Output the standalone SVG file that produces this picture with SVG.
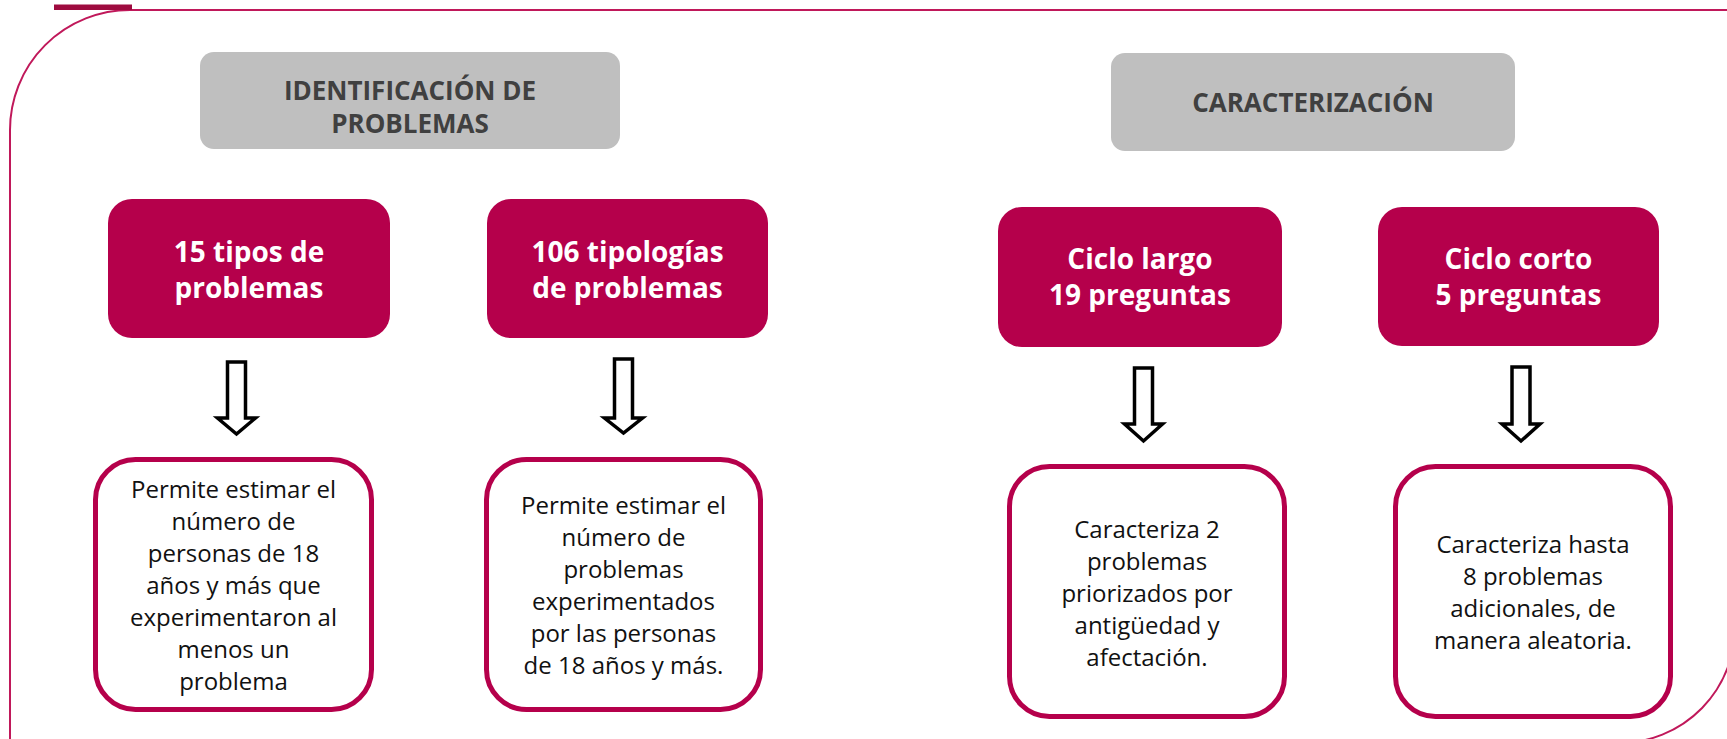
<svg xmlns="http://www.w3.org/2000/svg" width="1727" height="739" viewBox="0 0 1727 739">
  <style>
    .frame { fill: none; stroke: #C0185A; stroke-width: 2; }
    .gray { fill: #BFBFBF; }
    .gtxt { font-family: "Open Sans", "Noto Sans", sans-serif; font-weight: bold; font-size: 26px; fill: #404040; text-anchor: middle; }
    .mag { fill: #B5004B; }
    .mtxt { font-family: "Open Sans", "Noto Sans", sans-serif; font-weight: bold; font-size: 28px; fill: #FFFFFF; text-anchor: middle; }
    .wbox { fill: #FFFFFF; stroke: #B5004B; stroke-width: 5; }
    .btxt { font-family: "Open Sans", "Noto Sans", sans-serif; font-size: 24px; fill: #111111; text-anchor: middle; }
    .arrow { fill: #FFFFFF; stroke: #000000; stroke-width: 3.5; stroke-linejoin: miter; }
  </style>
  <rect width="1727" height="739" fill="#FFFFFF"/>
  <g id="frame">
    <path class="frame" d="M 10 745 V 130 A 120 120 0 0 1 130 10 H 1735 V 624 A 116 116 0 0 1 1619 743 Z"/>
    <rect x="54" y="4.5" width="78" height="5.5" fill="#9E0B3F"/>
  </g>

  <g id="header-identificacion">
    <rect class="gray" x="200" y="52" width="420" height="97" rx="14"/>
    <text class="gtxt" x="410" y="100">IDENTIFICACIÓN DE</text>
    <text class="gtxt" x="410" y="133">PROBLEMAS</text>
  </g>
  <g id="header-caracterizacion">
    <rect class="gray" x="1111" y="53" width="404" height="98" rx="14"/>
    <text class="gtxt" x="1313" y="112">CARACTERIZACIÓN</text>
  </g>

  <g id="node-15-tipos">
    <rect class="mag" x="108" y="199" width="282" height="139" rx="24"/>
    <text class="mtxt" x="249" y="262">15 tipos de</text>
    <text class="mtxt" x="249" y="298">problemas</text>
  </g>
  <g id="node-106-tipologias">
    <rect class="mag" x="487" y="199" width="281" height="139" rx="24"/>
    <text class="mtxt" x="627.5" y="262">106 tipologías</text>
    <text class="mtxt" x="627.5" y="298">de problemas</text>
  </g>
  <g id="node-ciclo-largo">
    <rect class="mag" x="998" y="207" width="284" height="140" rx="24"/>
    <text class="mtxt" x="1140" y="269">Ciclo largo</text>
    <text class="mtxt" x="1140" y="305">19 preguntas</text>
  </g>
  <g id="node-ciclo-corto">
    <rect class="mag" x="1378" y="207" width="281" height="139" rx="24"/>
    <text class="mtxt" x="1518.5" y="269">Ciclo corto</text>
    <text class="mtxt" x="1518.5" y="305">5 preguntas</text>
  </g>

  <g id="node-desc-1">
    <rect class="wbox" x="95.5" y="459.5" width="276" height="250" rx="40"/>
    <text class="btxt" x="233.5" y="498">Permite estimar el</text>
    <text class="btxt" x="233.5" y="530">número de</text>
    <text class="btxt" x="233.5" y="562">personas de 18</text>
    <text class="btxt" x="233.5" y="594">años y más que</text>
    <text class="btxt" x="233.5" y="626">experimentaron al</text>
    <text class="btxt" x="233.5" y="658">menos un</text>
    <text class="btxt" x="233.5" y="690">problema</text>
  </g>
  <g id="node-desc-2">
    <rect class="wbox" x="486.5" y="459.5" width="274" height="250" rx="40"/>
    <text class="btxt" x="623.5" y="514">Permite estimar el</text>
    <text class="btxt" x="623.5" y="546">número de</text>
    <text class="btxt" x="623.5" y="578">problemas</text>
    <text class="btxt" x="623.5" y="610">experimentados</text>
    <text class="btxt" x="623.5" y="642">por las personas</text>
    <text class="btxt" x="623.5" y="674">de 18 años y más.</text>
  </g>
  <g id="node-desc-3">
    <rect class="wbox" x="1009.5" y="466.5" width="275" height="250" rx="40"/>
    <text class="btxt" x="1147" y="538">Caracteriza 2</text>
    <text class="btxt" x="1147" y="570">problemas</text>
    <text class="btxt" x="1147" y="602">priorizados por</text>
    <text class="btxt" x="1147" y="634">antigüedad y</text>
    <text class="btxt" x="1147" y="666">afectación.</text>
  </g>
  <g id="node-desc-4">
    <rect class="wbox" x="1395.5" y="466.5" width="275" height="250" rx="40"/>
    <text class="btxt" x="1533" y="553">Caracteriza hasta</text>
    <text class="btxt" x="1533" y="585">8 problemas</text>
    <text class="btxt" x="1533" y="617">adicionales, de</text>
    <text class="btxt" x="1533" y="649">manera aleatoria.</text>
  </g>

  <g id="connectors">
    <path class="arrow" d="M 227.5 362 H 245.5 V 418 H 255.5 L 236.5 434 L 217.5 418 H 227.5 Z"/>
    <path class="arrow" d="M 614.5 359 H 632.5 V 418 H 642.5 L 623.5 433 L 604.5 418 H 614.5 Z"/>
    <path class="arrow" d="M 1134.5 368 H 1152.5 V 424 H 1162.5 L 1143.5 441 L 1124.5 424 H 1134.5 Z"/>
    <path class="arrow" d="M 1512 367 H 1530 V 424 H 1540 L 1521 441 L 1502 424 H 1512 Z"/>
  </g>
</svg>
